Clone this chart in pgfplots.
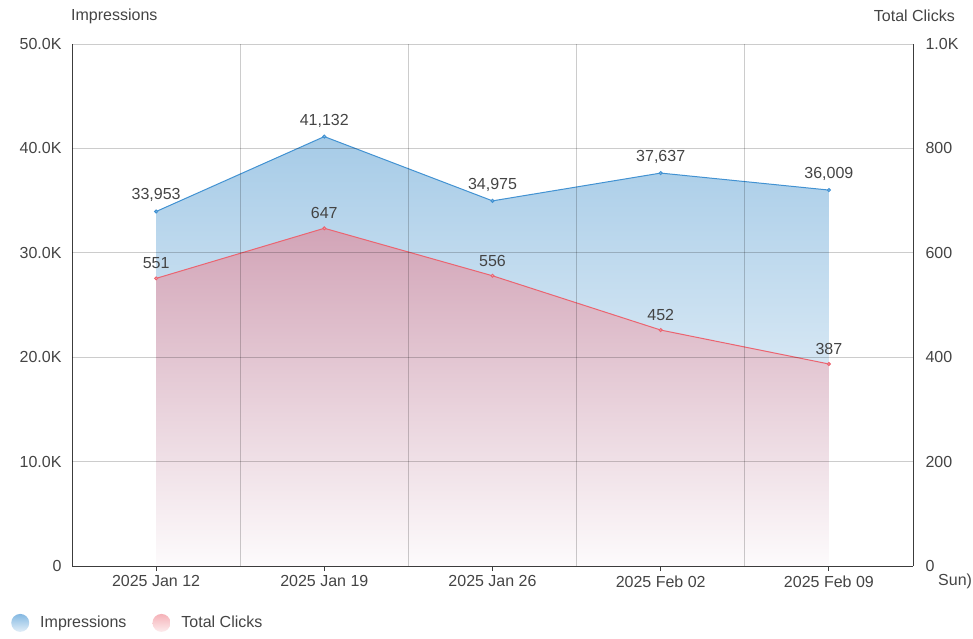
\documentclass[border=0pt]{standalone}
\usepackage{fontspec}
\setmainfont{Liberation Sans}
\usepackage{pgfplots}
\usepackage{pgfplotstable}
\pgfplotsset{compat=1.18}

\definecolor{bluel}{RGB}{66,146,210}
\definecolor{redl}{RGB}{235,100,112}
\definecolor{bluetop}{RGB}{166,203,231}
\definecolor{redtop}{RGB}{210,164,183}
\definecolor{redbot}{RGB}{253,251,252}
\definecolor{txt}{RGB}{68,68,68}
\definecolor{axisc}{RGB}{60,60,60}

\pgfplotstableread{
x y lbl
0 33953 33,953
1 41132 41,132
2 34975 34,975
3 37637 37,637
4 36009 36,009
}\impr
\pgfplotstableread{
x y lbl
0 551 551
1 647 647
2 556 556
3 452 452
4 387 387
}\clicks

\newcommand{\fs}{\fontsize{16}{18}\selectfont}

\pgfplotsset{
  base/.style={
    at={(72pt,72pt)}, anchor=south west,
    scale only axis, width=841pt, height=522pt,
    xmin=-0.5, xmax=4.5, ymin=0,
    tick label style={font=\fs, text=txt},
    /pgf/number format/assume math mode=true,
    axis line style={draw=axisc, line width=0.9pt, -},
    tick align=outside, major tick length=5pt,
    ytick style={draw=none},
    xtick style={draw=axisc, line width=0.9pt},
    nodes near coords style={font=\fs, text=txt, anchor=south, inner sep=2pt, yshift=7pt},
  },
}

\begin{document}
\begin{tikzpicture}
\useasboundingbox (0,0) rectangle (973pt,638pt);

\begin{axis}[base,
    ymax=50000,
    axis x line*=bottom, axis y line*=left,
    xtick={0,1,2,3,4},
    xticklabels={2025 Jan 12,2025 Jan 19,2025 Jan 26,2025 Feb 02,2025 Feb 09},
    xticklabel style={yshift=-1pt},
    ytick={0,10000,20000,30000,40000,50000},
    yticklabels={0,10.0K,20.0K,30.0K,40.0K,50.0K},
    yticklabel style={xshift=-2pt},
    scaled y ticks=false,
]
\addplot[draw=none, top color=bluetop, bottom color=white, forget plot]
  table[x=x, y=y] {\impr} \closedcycle;
\addplot[draw=bluel, line width=1pt, mark=*, mark size=1.5pt,
  mark options={draw=none, fill=bluel!50!white},
  nodes near coords, point meta=explicit symbolic, forget plot]
  table[x=x, y=y, meta=lbl] {\impr};
\end{axis}

\begin{axis}[base,
    ymax=1000,
    axis x line*=bottom, axis y line*=right,
    xtick={0.5,1.5,2.5,3.5},
    xticklabels={},
    xtick style={draw=none},
    xmajorgrids=true, ymajorgrids=true,
    ytick={0,200,400,600,800,1000},
    yticklabels={0,200,400,600,800,1.0K},
    yticklabel style={anchor=west, xshift=4pt},
    grid style={draw=black, opacity=0.2, line width=0.9pt},
    axis on top,
    legend style={draw=none, fill=none, at={(-0.0725,-0.109)}, anchor=west,
      font=\fs, text=txt, inner sep=0pt,
      /tikz/every odd column/.append style={column sep=9pt},
      /tikz/every even column/.append style={column sep=24pt}},
    legend columns=2,
    legend cell align=left,
]
\addplot[draw=none, top color=redtop, bottom color=redbot, forget plot]
  table[x=x, y=y] {\clicks} \closedcycle;
\addplot[draw=redl, line width=1pt, mark=*, mark size=1.5pt,
  mark options={draw=none, fill=redl!50!white},
  nodes near coords, point meta=explicit symbolic, forget plot]
  table[x=x, y=y, meta=lbl] {\clicks};
\addlegendimage{legend image code/.code={\shade[draw=none, top color=bluel!65!white, bottom color=bluel!15!white] (9pt,0pt) circle (9pt);}}
\addlegendentry{Impressions}
\addlegendimage{legend image code/.code={\shade[draw=none, top color=redl!50!white, bottom color=redl!12!white] (9pt,0pt) circle (9pt);}}
\addlegendentry{Total Clicks}
\end{axis}

\node[anchor=west, font=\fs, text=txt, inner sep=0pt] at (71pt,622pt) {Impressions};
\node[anchor=east, font=\fs, text=txt, inner sep=0pt] at (955pt,622pt) {Total Clicks};
\node[anchor=west, font=\fs, text=txt, inner sep=0pt] at (938pt,57pt) {Sun)};
\end{tikzpicture}
\end{document}
